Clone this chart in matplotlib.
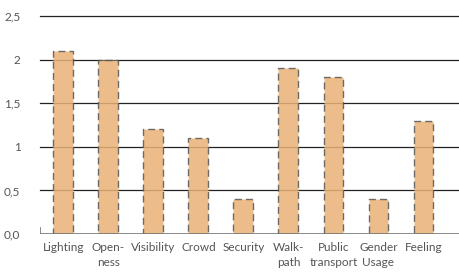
import matplotlib.pyplot as plt

# data
categories = ["Lighting", "Open-\nness", "Visibility", "Crowd", "Security",
              "Walk-\npath", "Public\ntransport", "Gender\nUsage", "Feeling"]
values = [2.1, 2.0, 1.2, 1.1, 0.4, 1.9, 1.8, 0.4, 1.3]
yticks = [0, 0.5, 1, 1.5, 2, 2.5]
ytick_labels = ["0,0", "0,5", "1", "1,5", "2", "2,5"]

plt.rcParams['font.family'] = ['Lato', 'DejaVu Sans']

fig = plt.figure(figsize=(4.59, 2.79), dpi=100)
ax = fig.add_axes([0.087, 0.161, 0.913, 0.782])

x = list(range(len(categories)))

for y in yticks[1:]:
    ax.axhline(y, color='#222222', lw=0.9, zorder=1, clip_on=False)

ax.bar(x, values, width=0.44, color='#E9B276', alpha=0.85, zorder=2,
       edgecolor='#555555', linewidth=1.0, linestyle=(0, (5, 3)))

ax.axhline(0, color='#777777', lw=1.2, zorder=3)
ax.axvline(-0.52, ymin=0, ymax=0.03, color='#777777', lw=1.2, zorder=3)

ax.set_xlim(-0.52, 8.79)
ax.set_ylim(0, 2.5)
ax.set_yticks(yticks)
ax.set_yticklabels(ytick_labels)
ax.set_xticks(x)
ax.set_xticklabels(categories, linespacing=1.45)
ax.tick_params(axis='both', length=0, labelsize=8.5, colors='#555555')
ax.tick_params(axis='y', pad=14)
ax.tick_params(axis='x', pad=6)
for s in ax.spines.values():
    s.set_visible(False)

fig.savefig('out.png', dpi=100)
